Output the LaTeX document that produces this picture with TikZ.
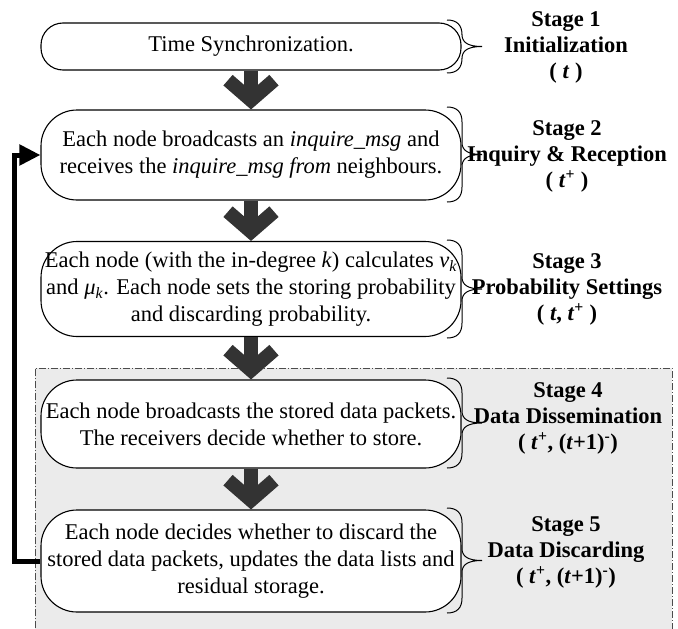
\documentclass[tikz,border=0pt]{standalone}
\usepackage{fontspec}
\setmainfont{Liberation Serif}
\usetikzlibrary{arrows.meta,calc}
\definecolor{arrowgray}{HTML}{333333}
\definecolor{regiongray}{HTML}{EBEBEB}
% curly brace on the right of a stage, from y=#1 down to y=#2
\newcommand{\stagebrace}[2]{%
  \draw[brc] (447,#1) .. controls (457,#1) and (462,{#1+5}) .. (462,{#1+15})
    -- (462,{(#1+#2)/2-12}) .. controls (462,{(#1+#2)/2-4}) and (468,{(#1+#2)/2}) .. (482,{(#1+#2)/2})
    .. controls (468,{(#1+#2)/2}) and (462,{(#1+#2)/2+4}) .. (462,{(#1+#2)/2+12})
    -- (462,{#2-15}) .. controls (462,{#2-5}) and (457,#2) .. (447,#2);}

\begin{document}
\begin{tikzpicture}[x=1pt,y=-1pt,
  box/.style={draw,line width=1.1pt,rounded corners=36pt,fill=white,minimum width=420pt,
              align=center,inner sep=2pt,font=\fontsize{22.5}{27}\selectfont},
  stagelbl/.style={align=center,font=\fontsize{22.5}{26}\selectfont\bfseries},
  bigar/.style={line width=14pt,draw=arrowgray,-{Straight Barb[length=20pt,width=46pt]}},
  brc/.style={line width=1pt},
  fb/.style={line width=5pt,-{Triangle[length=21pt,width=20pt]}}]
  \useasboundingbox (0,0) rectangle (678,629);
  % shaded part: stages 4 and 5
  \fill[regiongray] (35,368) rectangle (672,640);
  \draw[line width=0.8pt,black!70,dash pattern=on 7pt off 2pt on 1pt off 2pt]
    (35,640) -- (35,368) -- (672,368) -- (672,640);
  \node[box,rounded corners=22pt,minimum height=47pt] (b1) at (251,46.5) {Time Synchronization.};
  \node[box,minimum height=90pt] (b2) at (251,155)
    {Each node broadcasts an \textit{inquire\_msg} and\\ receives the \textit{inquire\_msg from} neighbours.};
  \node[box,minimum height=95pt,inner xsep=0pt] (b3) at (251,289)
    {Each node (with the in-degree \textit{k}) calculates \textit{v}\textsubscript{\textit{k}}\\
     and \textit{μ}\textsubscript{\textit{k}}. Each node sets the storing probability\\ and discarding probability.};
  \node[box,minimum height=88pt] (b4) at (251,424)
    {Each node broadcasts the stored data packets.\\ The receivers decide whether to store.};
  \node[box,minimum height=102pt] (b5) at (251,561)
    {Each node decides whether to discard the\\ stored data packets, updates the data lists and\\ residual storage.};
  \foreach \a/\b in {b1/b2,b2/b3,b3/b4,b4/b5} \draw[bigar] (\a) -- (\b);
  % loop back to stage 2
  \coordinate (fbx) at (14,0);
  \draw[fb] (b5.west) -| (fbx |- b2.west) -- (b2.west);
  % braces and stage labels
  \stagebrace{20}{73}
  \stagebrace{107}{202}
  \stagebrace{240}{338}
  \stagebrace{378}{468}
  \stagebrace{508}{613}
  \node[stagelbl] (s1) at (566,47) {Stage 1\\Initialization\\( \textit{t} )};
  \node[stagelbl] (s2) at (567,156) {Stage 2\\Inquiry \& Reception\\( \textit{t}\textsuperscript{+} )};
  \node[stagelbl] (s3) at (567,289) {Stage 3\\Probability Settings\\( \textit{t}, \textit{t}\textsuperscript{+} )};
  \node[stagelbl] (s4) at (568,418) {Stage 4\\Data Dissemination\\( \textit{t}\textsuperscript{+}, (\textit{t}+1)\textsuperscript{-})};
  \node[stagelbl] (s5) at (566,552) {Stage 5\\Data Discarding\\( \textit{t}\textsuperscript{+}, (\textit{t}+1)\textsuperscript{-})};
\end{tikzpicture}
\end{document}
